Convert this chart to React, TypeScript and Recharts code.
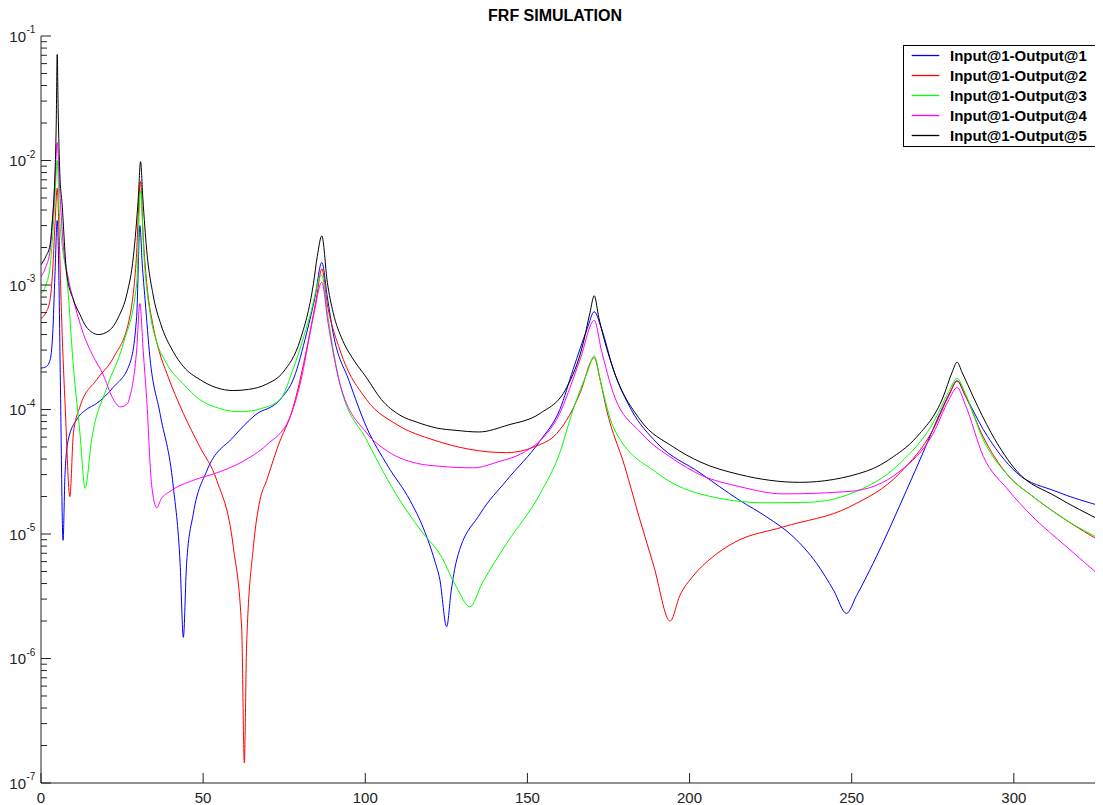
import React from 'react';
import { LineChart, Line, XAxis, YAxis, Legend } from 'recharts';

type Pt = [number, number];

// Input@1-Output@1 (blue)
const out1: Pt[] = [
  [0, 2.15e-4], [1.5, 2.2e-4], [2.8, 2.5e-4], [3.6, 4e-4], [4.3, 1.2e-3], [5.0, 3.3e-3], [5.5, 1.2e-3],
  [6.0, 1.5e-4], [6.8, 8.9e-6], [7.4, 3e-5], [8.4, 5.7e-5], [11, 8.3e-5], [14, 1e-4], [17.2, 1.12e-4],
  [22.2, 1.5e-4], [27.4, 2.35e-4], [29.5, 5.6e-4], [30.5, 3e-3], [31.2, 1.5e-3], [32.1, 7.6e-4],
  [33.6, 2.6e-4], [36.7, 9.3e-5], [40.8, 2.4e-5], [42.9, 5.8e-6], [43.9, 1.48e-6], [44.9, 5.8e-6],
  [47, 1.47e-5], [51.1, 3.2e-5], [59.3, 6e-5], [66, 9e-5], [73.7, 1.2e-4], [78, 1.8e-4], [81.9, 4.1e-4],
  [84.5, 8e-4], [86.6, 1.52e-3], [88.3, 8e-4], [90.1, 4.1e-4], [95, 1.7e-4], [100.4, 7.2e-5],
  [107, 3.5e-5], [113.8, 1.86e-5], [118, 1.1e-5], [121.5, 6e-6], [123, 4.3e-6], [125.1, 1.8e-6],
  [126.5, 3.5e-6], [128.2, 6.2e-6], [135.4, 1.45e-5], [143.6, 2.7e-5], [153.9, 5.6e-5], [160, 1e-4],
  [164.1, 2.1e-4], [168.5, 4.5e-4], [170.6, 6.1e-4], [172.8, 4.5e-4], [176.5, 2.1e-4], [182, 1e-4],
  [189.9, 5.4e-5], [203.2, 3.1e-5], [215.5, 1.86e-5], [223.8, 1.37e-5], [232, 9.5e-6], [239.2, 5.8e-6],
  [244.5, 3.5e-6], [248.4, 2.3e-6], [251.5, 3.2e-6], [256.6, 5.8e-6], [266.9, 2.24e-5], [272, 4.5e-5],
  [277.2, 9.3e-5], [280.5, 1.4e-4], [282.5, 1.7e-4], [285, 1.3e-4], [290.6, 6.9e-5], [300.9, 3.1e-5],
  [313, 2.2e-5], [327.5, 1.66e-5],
];

// Input@1-Output@2 (red)
const out2: Pt[] = [
  [0, 5.4e-4], [1.5, 6e-4], [2.8, 7.6e-4], [3.6, 1.3e-3], [4.3, 3e-3], [5.0, 6e-3], [5.6, 2.5e-3],
  [6.4, 5e-4], [7.5, 1e-4], [8.9, 2.0e-5], [10, 6.5e-5], [12, 1.05e-4], [17.2, 1.74e-4], [22.3, 2.6e-4],
  [27.4, 5.6e-4], [29.3, 1.5e-3], [30.7, 6.8e-3], [31.5, 2.5e-3], [32.6, 1.04e-3], [34.5, 4.8e-4],
  [36.5, 2.9e-4], [38.8, 1.95e-4], [43.9, 9.3e-5], [49, 5e-5], [54.2, 2.7e-5], [59.3, 7.9e-6],
  [61.9, 1.7e-6], [62.7, 1.45e-7], [63.4, 1.26e-6], [65.5, 7.9e-6], [67.5, 1.86e-5], [69.6, 2.7e-5],
  [73, 5e-5], [77.8, 1.05e-4], [82.9, 4.1e-4], [85, 8e-4], [86.6, 1.35e-3], [88.3, 7e-4], [92.2, 3.0e-4],
  [100.4, 1.2e-4], [110, 7.5e-5], [121, 5.7e-5], [132, 4.8e-5], [143.6, 4.5e-5], [152, 5e-5],
  [159, 6.4e-5], [163, 9e-5], [166.2, 1.35e-4], [170.6, 2.6e-4], [172.5, 1.7e-4], [174.4, 1.0e-4],
  [180, 3.5e-5], [184.7, 1.3e-5], [189, 5.5e-6], [194, 2.0e-6], [197, 3.2e-6], [201.1, 4.6e-6],
  [207, 6.5e-6], [214, 8.6e-6], [228.9, 1.14e-5], [249.5, 1.66e-5], [264.9, 3.1e-5], [275.1, 6.9e-5],
  [280, 1.3e-4], [282.5, 1.7e-4], [285, 1.3e-4], [290.6, 6e-5], [298, 3e-5], [305.9, 2.0e-5],
  [316, 1.3e-5], [327.5, 8.5e-6],
];

// Input@1-Output@3 (green)
const out3: Pt[] = [
  [0, 8.5e-4], [1.5, 1e-3], [2.8, 1.4e-3], [3.6, 2.5e-3], [4.3, 5e-3], [5.0, 1e-2], [5.6, 4e-3],
  [6.6, 2e-3], [7.9, 1.2e-3], [10, 2.2e-4], [12, 6.5e-5], [13.6, 2.33e-5], [15.6, 5.7e-5], [20.3, 1.5e-4],
  [25.4, 3.4e-4], [29.5, 1.02e-3], [30.7, 5.8e-3], [31.7, 1.8e-3], [33.6, 6e-4], [35.5, 3.6e-4],
  [38.5, 2.4e-4], [43.9, 1.6e-4], [49, 1.2e-4], [55, 1.02e-4], [61.5, 9.6e-5], [68, 1.02e-4],
  [73.7, 1.2e-4], [78, 2.2e-4], [82.9, 5.6e-4], [86.6, 1.2e-3], [88.5, 5.5e-4], [92.2, 1.6e-4],
  [100.4, 5.7e-5], [110.7, 1.86e-5], [118, 1e-5], [123, 6.9e-6], [128, 3.8e-6], [132.3, 2.6e-6],
  [136, 4e-6], [143.6, 8.4e-6], [153.9, 2.1e-5], [160, 4.5e-5], [164.1, 1.0e-4], [168.5, 2e-4],
  [170.6, 2.7e-4], [172.5, 1.7e-4], [176.5, 7.2e-5], [189.9, 3.1e-5], [203.2, 2.1e-5], [223.8, 1.78e-5],
  [237, 1.8e-5], [249.5, 2.1e-5], [264.9, 3.7e-5], [275.1, 7.8e-5], [280, 1.4e-4], [282.5, 1.78e-4],
  [285, 1.35e-4], [290.6, 5.7e-5], [298, 3e-5], [305.9, 2.0e-5], [316, 1.3e-5], [327.5, 8.9e-6],
];

// Input@1-Output@4 (magenta)
const out4: Pt[] = [
  [0, 1.17e-3], [1.5, 1.4e-3], [2.8, 1.9e-3], [3.6, 3.5e-3], [4.3, 7e-3], [5.0, 1.4e-2], [5.6, 7e-3],
  [6.8, 2.2e-3], [8.5, 1.1e-3], [10, 7.6e-4], [13, 4.1e-4], [16, 2.7e-4], [19.2, 1.9e-4], [22, 1.25e-4],
  [24.4, 1.05e-4], [26.5, 1.1e-4], [27.4, 1.26e-4], [29.5, 3e-4], [30.5, 7.1e-4], [31.5, 3e-4],
  [32.6, 1.2e-4], [34.1, 2.5e-5], [35.7, 1.62e-5], [37, 1.9e-5], [39.8, 2.2e-5], [47, 2.7e-5],
  [54.2, 3.1e-5], [62, 3.8e-5], [69.6, 5.2e-5], [76.8, 8.7e-5], [79.9, 1.6e-4], [84, 5.6e-4],
  [86.6, 1.05e-3], [88.5, 5e-4], [92.2, 1.6e-4], [100.4, 6.5e-5], [107, 4.6e-5], [115.8, 3.7e-5],
  [123, 3.5e-5], [133.3, 3.4e-5], [141, 3.8e-5], [148.7, 4.5e-5], [155, 6e-5], [159, 8.3e-5],
  [166.2, 2.5e-4], [170.6, 5.2e-4], [172.8, 3e-4], [176.5, 1.35e-4], [185, 6.5e-5], [195, 4e-5],
  [203.2, 3e-5], [215.5, 2.4e-5], [228.9, 2.1e-5], [249.5, 2.2e-5], [264.9, 3.2e-5], [275.1, 6.4e-5],
  [280, 1.2e-4], [282.5, 1.5e-4], [285, 1.1e-4], [290.6, 4.2e-5], [298, 2.3e-5], [305.9, 1.37e-5],
  [316, 8e-6], [327.5, 4.4e-6],
];

// Input@1-Output@5 (black)
const out5: Pt[] = [
  [0, 1.45e-3], [1.5, 1.7e-3], [2.8, 2.1e-3], [3.5, 3.3e-3], [4.2, 6.5e-3], [4.7, 2e-2], [5.0, 7.1e-2],
  [5.3, 2.5e-2], [5.8, 8e-3], [6.5, 4.5e-3], [7.9, 1.25e-3], [10, 7.6e-4], [12, 5.8e-4], [14, 4.6e-4],
  [17.7, 4.0e-4], [21, 4.3e-4], [24, 5.6e-4], [26.5, 8.5e-4], [28.5, 1.7e-3], [30, 5e-3], [30.7, 9.8e-3],
  [31.4, 5e-3], [32.6, 1.9e-3], [34.5, 8.5e-4], [37, 4.8e-4], [40.5, 3.0e-4], [44, 2.2e-4], [49, 1.74e-4],
  [54, 1.5e-4], [59.3, 1.42e-4], [64, 1.45e-4], [69.6, 1.6e-4], [74.7, 2.0e-4], [79.9, 3.6e-4],
  [84, 1.02e-3], [85.2, 1.7e-3], [86.6, 2.48e-3], [88.3, 1.05e-3], [90.1, 6e-4], [93, 3.6e-4],
  [96, 2.6e-4], [100.4, 1.8e-4], [105, 1.2e-4], [110.7, 9e-5], [116, 7.9e-5], [122, 7.1e-5],
  [128, 6.8e-5], [135, 6.6e-5], [144, 7.5e-5], [153.9, 9.3e-5], [162.1, 1.5e-4], [167.2, 3.4e-4],
  [169.3, 6e-4], [170.6, 8.2e-4], [172, 5.5e-4], [176.5, 2.1e-4], [184.7, 8.3e-5], [195, 5e-5],
  [203.2, 3.8e-5], [215.5, 3.0e-5], [234, 2.6e-5], [254.6, 3.2e-5], [263, 4.2e-5], [270, 6e-5],
  [278.2, 1.26e-4], [281, 2e-4], [282.5, 2.4e-4], [284, 2e-4], [287.5, 1.26e-4], [293, 6.5e-5],
  [300.9, 3.2e-5], [313, 2e-5], [327.5, 1.26e-5],
];

const seriesNames = [
  'Input@1-Output@1',
  'Input@1-Output@2',
  'Input@1-Output@3',
  'Input@1-Output@4',
  'Input@1-Output@5',
];
const seriesColors = ['#0000ff', '#ff0000', '#00ff00', '#ff00ff', '#000000'];
const seriesData = [out1, out2, out3, out4, out5];

const xTicks = [0, 50, 100, 150, 200, 250, 300];
const xDomain: [number, number] = [0, 327.5];
const yExponents = [-7, -6, -5, -4, -3, -2, -1];
const yMinorMultipliers = [2, 3, 4, 5, 6, 7, 8, 9];
const title = 'FRF SIMULATION';

const FONT = '"Liberation Sans", Arial, Helvetica, sans-serif';
const AXIS = '#222';

const yTicks: number[] = [];
yExponents.forEach((e) => {
  yTicks.push(Number(Math.pow(10, e).toPrecision(6)));
  if (e < -1) {
    yMinorMultipliers.forEach((m) => yTicks.push(Number((m * Math.pow(10, e)).toPrecision(6))));
  }
});
yTicks.sort((a, b) => a - b);

const isDecade = (v: number) => {
  const l = Math.log10(v);
  return Math.abs(l - Math.round(l)) < 1e-6;
};

const XTickBottom = (props: any) => {
  const { x, y, payload } = props;
  return (
    <g>
      <line x1={x} y1={y} x2={x} y2={y - 10} stroke={AXIS} strokeWidth={1} />
      <text x={x} y={y + 19.5} textAnchor="middle" fontSize={15} fontFamily={FONT} fill={AXIS}>
        {payload.value}
      </text>
    </g>
  );
};

const XTickTop = (props: any) => {
  const { x, y } = props;
  return <line x1={x} y1={y} x2={x} y2={y + 10} stroke={AXIS} strokeWidth={1} />;
};

const YTick = (props: any) => {
  const { x, y, payload } = props;
  const v = payload.value as number;
  const dec = isDecade(v);
  const e = Math.round(Math.log10(v));
  return (
    <g>
      <line x1={x} y1={y} x2={x + (dec ? 10 : 6)} y2={y} stroke={AXIS} strokeWidth={1} />
      {dec && (
        <g>
          <text x={x - 15} y={y + 5.7} textAnchor="end" fontSize={15} fontFamily={FONT} fill={AXIS}>
            10
          </text>
          <text x={x - 14.5} y={y - 3} textAnchor="start" fontSize={10} fontFamily={FONT} fill={AXIS}>
            {String(e)}
          </text>
        </g>
      )}
    </g>
  );
};

const LegendBox = () => (
  <svg width={220} height={102} style={{ display: 'block' }}>
    <rect x={0.5} y={0.5} width={230} height={101} fill="#ffffff" stroke="#000" strokeWidth={1} />
    {seriesNames.map((n, i) => (
      <g key={n}>
        <line x1={8.7} x2={36.3} y1={10.5 + i * 20} y2={10.5 + i * 20} stroke={seriesColors[i]} strokeWidth={1.3} />
        <text x={47} y={15.8 + i * 20} fontSize={15} fontWeight="bold" fontFamily={FONT} fill="#000">
          {n}
        </text>
      </g>
    ))}
  </svg>
);

export default function App() {
  const datasets = seriesData.map((s) => s.map(([x, y]) => ({ x, y })));
  return (
    <div style={{ position: 'relative', width: 1095, height: 797, overflow: 'hidden', background: '#fff' }}>
      <div
        style={{
          position: 'absolute',
          left: 0,
          width: 1095,
          top: 0,
          fontFamily: FONT,
          fontWeight: 'bold',
          fontSize: 16,
          lineHeight: '16px',
          color: '#000',
          zIndex: 2,
        }}
      >
        <span style={{ position: 'absolute', left: 547, transform: 'translateX(-50%)', whiteSpace: 'nowrap' }}>{title}</span>
      </div>
      <LineChart width={1095} height={797} margin={{ top: 28, right: 0, bottom: 0, left: 0 }}>
        <XAxis
          dataKey="x"
          type="number"
          domain={xDomain}
          ticks={xTicks}
          interval={0}
          allowDataOverflow
          height={22}
          tickSize={0}
          tickMargin={0}
          tickLine={false}
          tick={<XTickBottom />}
          axisLine={{ stroke: AXIS, strokeWidth: 1 }}
        />
        <XAxis
          xAxisId="top"
          orientation="top"
          dataKey="x"
          type="number"
          domain={xDomain}
          ticks={xTicks}
          interval={0}
          allowDataOverflow
          height={0}
          tickSize={0}
          tickMargin={0}
          tickLine={false}
          tick={<XTickTop />}
          axisLine={{ stroke: AXIS, strokeWidth: 1 }}
        />
        <YAxis
          type="number"
          scale="log"
          domain={[1e-7, 1e-1]}
          ticks={yTicks}
          interval={0}
          allowDataOverflow
          width={33}
          tickSize={0}
          tickMargin={0}
          tickLine={false}
          tick={<YTick />}
          axisLine={{ stroke: AXIS, strokeWidth: 1 }}
        />
        <Legend
          layout="vertical"
          align="center"
          verticalAlign="middle"
          content={() => <LegendBox />}
          wrapperStyle={{ position: 'absolute', left: 895, top: 37, width: 220, height: 102 }}
        />
        {datasets.map((d, i) => (
          <Line
            key={seriesNames[i]}
            data={d}
            dataKey="y"
            name={seriesNames[i]}
            type="monotone"
            stroke={seriesColors[i]}
            strokeWidth={1}
            dot={false}
            activeDot={false}
            isAnimationActive={false}
          />
        ))}
      </LineChart>
    </div>
  );
}
